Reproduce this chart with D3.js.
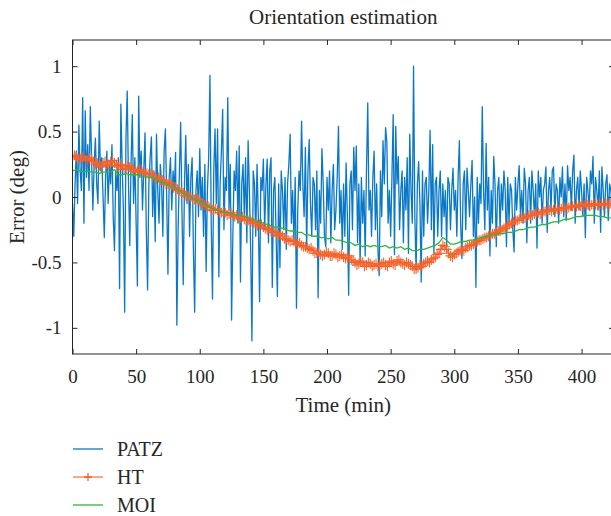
<!DOCTYPE html>
<html>
<head>
<meta charset="utf-8">
<script src="https://cdn.jsdelivr.net/npm/d3@7"></script>
<style>
  body { margin: 0; background: #fff; }
  svg text { font-family: "Liberation Serif", "DejaVu Serif", serif; fill: #262626; }
</style>
</head>
<body>
<div id="viz"></div>
<script>

// series
var seriesNames = ["PATZ", "HT", "MOI"];
var xTicks = [0, 50, 100, 150, 200, 250, 300, 350, 400];
var yTicks = [-1, -0.5, 0, 0.5, 1];

// PATZ: one value per minute, t = 0..424
var patz = [
 -0.05,-0.30,0.10,0.35,-0.05,0.55,0.20,0.05,0.76,-0.20,
 0.66,0.15,0.40,0.05,0.69,0.30,-0.10,0.25,0.45,0.10,
 -0.05,0.58,0.20,0.30,0.00,-0.31,0.15,0.35,-0.05,0.25,
 0.10,0.40,-0.15,-0.41,0.20,0.05,0.30,-0.70,0.71,0.25,
 -0.10,-0.88,0.45,0.81,0.10,-0.37,0.25,0.63,-0.05,0.30,
 -0.20,-0.68,0.77,0.15,0.35,-0.10,0.20,0.49,-0.25,-0.71,
 0.10,0.30,0.46,-0.15,0.20,-0.34,0.48,0.05,-0.20,0.25,
 0.10,-0.30,0.35,0.52,0.00,-0.59,0.15,0.30,-0.10,0.20,
 0.05,0.34,-0.98,-0.25,0.20,0.57,-0.10,-0.67,0.10,0.47,
 -0.05,0.25,-0.30,0.15,0.30,-0.40,-0.88,0.05,0.20,-0.15,
 0.37,-0.10,0.15,-0.30,0.25,-0.57,0.05,0.30,0.93,-0.20,
 -0.78,0.20,0.52,-0.05,0.52,-0.61,0.10,0.35,0.67,-0.25,
 0.15,0.05,0.76,-0.10,0.25,-0.94,-0.30,0.20,0.05,0.35,
 -0.20,0.39,-0.65,0.10,0.25,-0.15,0.30,-0.35,0.43,0.05,
 -0.40,-1.10,0.20,0.10,-0.30,0.25,-0.15,-0.80,0.15,0.05,
 0.29,-0.25,0.10,0.29,-0.35,0.20,0.30,-0.69,0.05,0.15,
 -0.30,-0.76,0.10,-0.54,0.20,0.05,-0.25,0.15,-0.40,0.10,
 0.25,0.48,-0.20,0.05,-0.35,0.15,-0.85,-0.10,0.20,0.05,
 0.58,0.10,-0.15,0.38,-0.40,0.20,0.44,-0.05,-0.30,0.15,
 0.10,-0.25,0.20,-0.77,0.05,-0.20,0.37,0.10,-0.30,-0.38,
 0.15,-0.10,0.20,-0.35,0.05,0.25,-0.25,-0.10,0.15,0.54,
 -0.20,0.05,-0.40,0.10,-0.30,0.26,-0.15,-0.75,0.10,0.20,
 -0.25,0.38,0.05,0.39,-0.35,0.10,-0.51,0.15,-0.20,0.05,
 -0.45,0.20,0.72,-0.10,0.05,-0.30,0.15,0.35,-0.25,0.10,
 -0.40,-0.60,0.20,-0.15,0.43,0.10,0.53,0.42,-0.20,0.05,
 -0.30,0.15,0.63,-0.44,0.54,0.10,0.31,-0.25,0.05,0.20,
 -0.35,0.15,-0.10,0.30,-0.43,0.48,0.05,-0.20,1.00,-0.15,
 -0.56,0.10,0.27,-0.05,-0.65,0.20,-0.30,0.10,0.15,-0.20,
 0.05,0.51,-0.25,0.40,-0.43,0.10,0.15,-0.30,0.05,0.20,
 -0.30,0.10,-0.15,0.05,-0.37,0.15,0.10,-0.25,0.05,0.22,
 -0.10,0.05,-0.30,0.15,0.43,-0.20,-0.47,0.10,0.20,-0.25,
 0.22,0.05,-0.15,0.10,0.28,-0.30,0.00,-0.69,0.15,-0.20,
 0.10,-0.05,0.69,0.05,-0.25,0.41,-0.10,0.15,-0.45,0.05,
 -0.20,0.31,0.10,-0.38,0.05,0.15,-0.25,0.10,-0.10,0.20,
 0.05,-0.38,0.15,-0.20,0.10,0.05,-0.25,-0.42,0.15,-0.10,
 0.10,0.24,-0.15,0.05,-0.20,0.22,0.10,-0.35,0.05,0.15,
 -0.20,0.20,0.05,-0.15,0.10,-0.39,0.20,0.00,0.15,-0.20,
 0.05,0.10,0.23,-0.27,0.05,0.15,-0.10,0.20,0.23,-0.15,
 0.10,0.05,-0.20,0.15,0.00,0.23,-0.15,0.10,-0.18,0.24,
 0.05,0.15,-0.10,0.20,0.32,-0.20,0.05,0.15,-0.10,0.20,
 0.05,-0.15,0.10,-0.31,0.15,0.05,-0.10,0.20,0.10,0.31,
 -0.20,0.15,0.05,-0.10,0.20,-0.27,0.23,0.05,-0.15,0.10,
 0.17,-0.18,0.10,0.05,-0.10
];

// HT: every 1.5 minutes, t = 0..423
var ht = [
 0.30,0.32,0.31,0.29,0.29,0.31,0.31,0.28,0.28,0.30,0.29,0.27,0.25,0.26,0.24,0.23,0.26,0.27,0.25,0.24,
 0.27,0.28,0.26,0.24,0.23,0.25,0.24,0.21,0.22,0.24,0.23,0.22,0.21,0.19,0.20,0.21,0.21,0.19,0.18,0.18,
 0.17,0.18,0.17,0.15,0.14,0.15,0.13,0.13,0.12,0.10,0.10,0.11,0.09,0.07,0.07,0.06,0.05,0.04,0.03,0.01,
 0.01,0.01,0.00,-0.02,-0.02,-0.01,-0.02,-0.04,-0.05,-0.06,-0.07,-0.07,-0.08,-0.10,-0.10,-0.09,-0.10,-0.12,-0.12,-0.11,
 -0.12,-0.14,-0.13,-0.12,-0.14,-0.15,-0.14,-0.16,-0.16,-0.15,-0.17,-0.18,-0.18,-0.17,-0.19,-0.20,-0.20,-0.22,-0.21,-0.21,
 -0.23,-0.24,-0.25,-0.24,-0.26,-0.27,-0.27,-0.29,-0.29,-0.28,-0.30,-0.32,-0.32,-0.33,-0.34,-0.33,-0.34,-0.36,-0.36,-0.35,
 -0.37,-0.38,-0.38,-0.39,-0.40,-0.39,-0.41,-0.43,-0.43,-0.42,-0.44,-0.45,-0.44,-0.42,-0.43,-0.45,-0.45,-0.43,-0.44,-0.46,
 -0.45,-0.44,-0.46,-0.47,-0.46,-0.45,-0.48,-0.49,-0.50,-0.52,-0.51,-0.49,-0.50,-0.53,-0.52,-0.50,-0.51,-0.53,-0.52,-0.51,
 -0.53,-0.52,-0.51,-0.50,-0.52,-0.53,-0.50,-0.49,-0.51,-0.52,-0.49,-0.48,-0.50,-0.51,-0.52,-0.50,-0.51,-0.52,-0.53,-0.55,
 -0.55,-0.54,-0.52,-0.53,-0.51,-0.50,-0.49,-0.50,-0.48,-0.47,-0.46,-0.44,-0.43,-0.40,-0.37,-0.38,-0.40,-0.43,-0.45,-0.46,
 -0.44,-0.43,-0.42,-0.41,-0.40,-0.41,-0.39,-0.38,-0.37,-0.37,-0.36,-0.35,-0.34,-0.33,-0.33,-0.32,-0.31,-0.31,-0.30,-0.29,
 -0.28,-0.28,-0.27,-0.26,-0.26,-0.25,-0.24,-0.23,-0.22,-0.21,-0.20,-0.19,-0.18,-0.18,-0.17,-0.16,-0.16,-0.16,-0.15,-0.14,
 -0.14,-0.14,-0.13,-0.12,-0.12,-0.13,-0.12,-0.11,-0.11,-0.10,-0.10,-0.11,-0.10,-0.09,-0.09,-0.10,-0.09,-0.08,-0.08,-0.09,
 -0.08,-0.07,-0.07,-0.08,-0.07,-0.06,-0.07,-0.07,-0.06,-0.05,-0.06,-0.07,-0.06,-0.05,-0.06,-0.06,-0.05,-0.06,-0.06,-0.05,
 -0.05,-0.06,-0.05
];

// MOI: every 3 minutes, t = 0..423
var moi = [
 0.20,0.21,0.20,0.19,0.20,0.19,0.19,0.18,0.19,0.19,
 0.19,0.21,0.17,0.17,0.18,0.17,0.17,0.17,0.16,0.16,
 0.15,0.15,0.13,0.12,0.11,0.09,0.08,0.07,0.05,0.03,
 0.01,0.00,-0.02,-0.03,-0.05,-0.06,-0.08,-0.09,-0.10,-0.11,
 -0.12,-0.12,-0.13,-0.14,-0.14,-0.15,-0.16,-0.17,-0.18,-0.19,
 -0.20,-0.21,-0.22,-0.23,-0.23,-0.24,-0.25,-0.26,-0.26,-0.27,
 -0.27,-0.29,-0.29,-0.30,-0.30,-0.31,-0.31,-0.32,-0.31,-0.33,
 -0.33,-0.34,-0.35,-0.35,-0.37,-0.36,-0.38,-0.37,-0.38,-0.37,
 -0.38,-0.38,-0.37,-0.39,-0.38,-0.39,-0.38,-0.40,-0.39,-0.41,
 -0.41,-0.40,-0.40,-0.39,-0.38,-0.37,-0.35,-0.31,-0.33,-0.36,
 -0.36,-0.35,-0.34,-0.34,-0.33,-0.33,-0.32,-0.31,-0.30,-0.30,
 -0.29,-0.29,-0.28,-0.28,-0.27,-0.27,-0.26,-0.25,-0.25,-0.24,
 -0.23,-0.23,-0.22,-0.21,-0.21,-0.20,-0.19,-0.19,-0.18,-0.17,
 -0.17,-0.16,-0.15,-0.15,-0.14,-0.14,-0.14,-0.14,-0.15,-0.15,
 -0.16,-0.16
];

var W = 611, H = 516;
var plotL = 72.5, plotR = 614, plotT = 40, plotB = 354;

var x = d3.scaleLinear().domain([0, 425.5]).range([plotL, plotR]);
var y = d3.scaleLinear().domain([-1.2, 1.2]).range([plotB, plotT]);

var svg = d3.select("#viz").append("svg")
    .attr("width", W)
    .attr("height", H);

svg.append("defs").append("clipPath").attr("id", "plotclip")
    .append("rect")
    .attr("x", plotL).attr("y", plotT)
    .attr("width", plotR - plotL).attr("height", plotB - plotT);

function toPoints(vals, step) {
    return vals.map(function(v, i) { return [i * step, v]; });
}

var line = d3.line()
    .x(function(d) { return x(d[0]); })
    .y(function(d) { return y(d[1]); });

var plot = svg.append("g").attr("clip-path", "url(#plotclip)");

// PATZ
plot.append("path")
    .datum(toPoints(patz, 1))
    .attr("d", line)
    .attr("fill", "none")
    .attr("stroke", "#0a78c8")
    .attr("stroke-width", 1.3)
    .attr("stroke-linejoin", "round");

// HT line + plus markers
var htPts = toPoints(ht, 1.5);
plot.append("path")
    .datum(htPts)
    .attr("d", line)
    .attr("fill", "none")
    .attr("stroke", "#f47a4a")
    .attr("stroke-width", 1.2);

plot.selectAll(".htmark")
    .data(htPts)
    .enter().append("path")
    .attr("class", "htmark")
    .attr("d", function(d) {
        var cx = x(d[0]), cy = y(d[1]), a = 5;
        return "M" + (cx - a) + "," + cy + "h" + (2 * a) + "M" + cx + "," + (cy - a) + "v" + (2 * a);
    })
    .attr("stroke", "#f4622a")
    .attr("stroke-width", 1.1)
    .attr("fill", "none");

// MOI
plot.append("path")
    .datum(toPoints(moi, 3))
    .attr("d", line)
    .attr("fill", "none")
    .attr("stroke", "#2fb53f")
    .attr("stroke-width", 1.3);

// axes, ticks point inward on all four sides
var axisColor = "#262626";

var gx = svg.append("g")
    .attr("transform", "translate(0," + plotB + ")")
    .call(d3.axisBottom(x).tickValues(xTicks).tickSizeInner(-5).tickSizeOuter(0).tickPadding(16));

var gxTop = svg.append("g")
    .attr("transform", "translate(0," + plotT + ")")
    .call(d3.axisTop(x).tickValues(xTicks).tickSizeInner(-5).tickSizeOuter(0).tickFormat(""));

var gy = svg.append("g")
    .attr("transform", "translate(" + plotL + ",0)")
    .call(d3.axisLeft(y).tickValues(yTicks).tickSizeInner(-5).tickSizeOuter(0).tickPadding(11)
        .tickFormat(function(d) { return String(d); }));

var gyRight = svg.append("g")
    .attr("transform", "translate(" + plotR + ",0)")
    .call(d3.axisRight(y).tickValues(yTicks).tickSizeInner(-5).tickSizeOuter(0).tickFormat(""));

[gx, gxTop, gy, gyRight].forEach(function(g) {
    g.select(".domain").remove();
    g.selectAll(".tick line").attr("stroke", axisColor).attr("stroke-width", 1);
    g.selectAll(".tick text").attr("font-size", 19).style("fill", axisColor);
});

svg.append("rect")
    .attr("x", plotL).attr("y", plotT)
    .attr("width", plotR - plotL).attr("height", plotB - plotT)
    .attr("fill", "none")
    .attr("stroke", axisColor)
    .attr("stroke-width", 1);

// titles
svg.append("text")
    .attr("x", (plotL + plotR) / 2)
    .attr("y", 24)
    .attr("text-anchor", "middle")
    .attr("font-size", 21)
    .text("Orientation estimation");

svg.append("text")
    .attr("x", (plotL + plotR) / 2)
    .attr("y", 412)
    .attr("text-anchor", "middle")
    .attr("font-size", 21)
    .text("Time (min)");

svg.append("text")
    .attr("transform", "translate(24," + ((plotT + plotB) / 2) + ") rotate(-90)")
    .attr("text-anchor", "middle")
    .attr("font-size", 21)
    .text("Error (deg)");

// legend
var legendColors = ["#0a78c8", "#f47a4a", "#2fb53f"];
var leg = svg.append("g");
seriesNames.forEach(function(name, i) {
    var ly = 449 + i * 28;
    leg.append("line")
        .attr("x1", 73).attr("x2", 103)
        .attr("y1", ly).attr("y2", ly)
        .attr("stroke", legendColors[i])
        .attr("stroke-width", 1.3);
    if (name === "HT") {
        leg.append("path")
            .attr("d", "M84," + ly + "h8M88," + (ly - 4) + "v8")
            .attr("stroke", "#f4622a")
            .attr("stroke-width", 1.3);
    }
    leg.append("text")
        .attr("x", 117)
        .attr("y", ly + 7)
        .attr("font-size", 20)
        .text(name);
});

</script>
</body>
</html>
